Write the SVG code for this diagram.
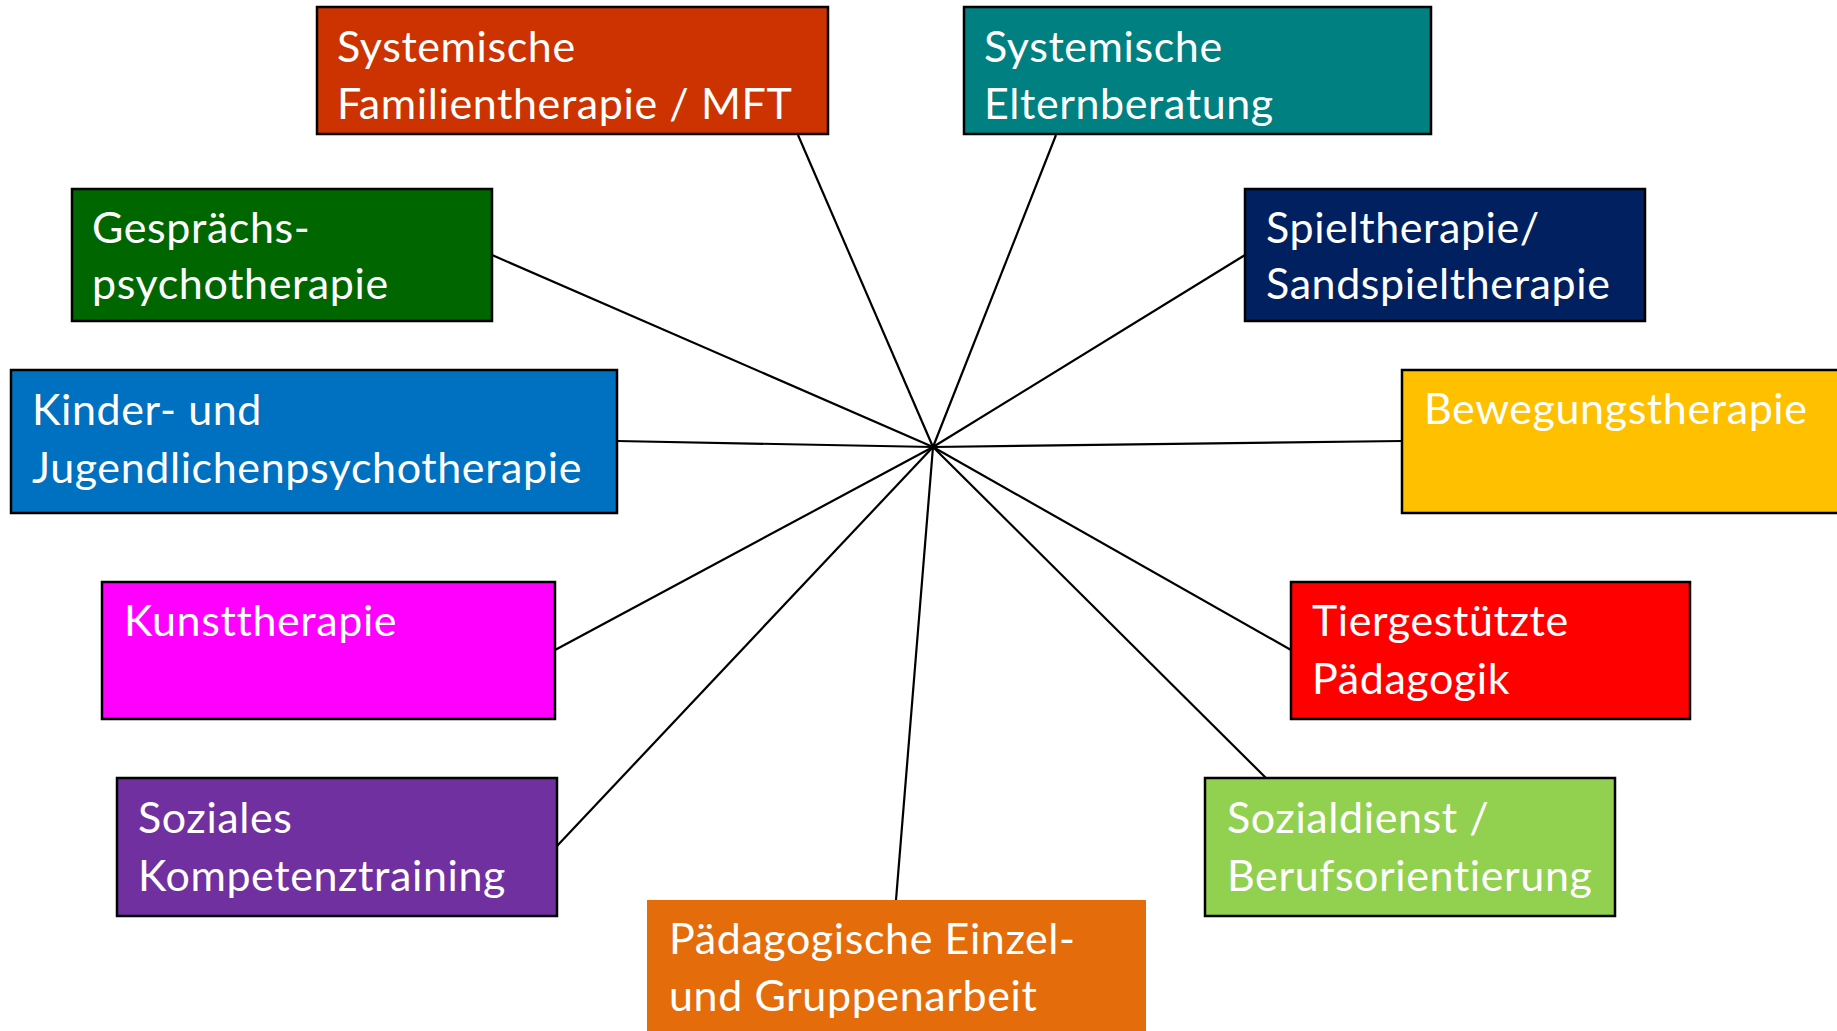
<svg xmlns="http://www.w3.org/2000/svg" width="1837" height="1031" viewBox="0 0 1837 1031">
<style>
.box{stroke:#000;stroke-width:2.5}
.nob{stroke:none}
.t{font-family:Lato,"Open Sans","Liberation Sans",sans-serif;font-size:43px;letter-spacing:0.6px;fill:#fff}
.c line{stroke:#000;stroke-width:2.2}
</style>
<rect width="1837" height="1031" fill="#fff"/>
<g id="connectors" class="c">
<line x1="933" y1="447" x2="798" y2="135"/>
<line x1="933" y1="447" x2="1056" y2="135"/>
<line x1="933" y1="447" x2="492" y2="255"/>
<line x1="933" y1="447" x2="1245" y2="255"/>
<line x1="933" y1="447" x2="617" y2="441"/>
<line x1="933" y1="447" x2="1402" y2="441"/>
<line x1="933" y1="447" x2="555" y2="650"/>
<line x1="933" y1="447" x2="1291" y2="650"/>
<line x1="933" y1="447" x2="557" y2="846"/>
<line x1="933" y1="447" x2="1266" y2="778"/>
<line x1="933" y1="447" x2="896" y2="900"/>
</g>
<g id="familientherapie">
<rect class="box" x="317" y="7" width="511" height="127" fill="#CC3300"/>
<text class="t" x="337" y="62">Systemische</text>
<text class="t" x="337" y="119">Familientherapie / MFT</text>
</g>
<g id="elternberatung">
<rect class="box" x="964" y="7" width="467" height="127" fill="#008080"/>
<text class="t" x="984" y="62">Systemische</text>
<text class="t" x="984" y="119">Elternberatung</text>
</g>
<g id="gespraechspsychotherapie">
<rect class="box" x="72" y="189" width="420" height="132" fill="#006600"/>
<text class="t" x="92" y="243">Gesprächs-</text>
<text class="t" x="92" y="299">psychotherapie</text>
</g>
<g id="spieltherapie">
<rect class="box" x="1245" y="189" width="400" height="132" fill="#002060"/>
<text class="t" x="1266" y="243">Spieltherapie/</text>
<text class="t" x="1266" y="299">Sandspieltherapie</text>
</g>
<g id="kjp">
<rect class="box" x="11" y="370" width="606" height="143" fill="#0070C0"/>
<text class="t" x="32" y="425">Kinder- und</text>
<text class="t" x="32" y="483">Jugendlichenpsychotherapie</text>
</g>
<g id="bewegungstherapie">
<rect class="box" x="1402" y="370" width="460" height="143" fill="#FFC000"/>
<text class="t" x="1424" y="424">Bewegungstherapie</text>
</g>
<g id="kunsttherapie">
<rect class="box" x="102" y="582" width="453" height="137" fill="#FF00FF"/>
<text class="t" x="124" y="636">Kunsttherapie</text>
</g>
<g id="tiergestuetzt">
<rect class="box" x="1291" y="582" width="399" height="137" fill="#FF0000"/>
<text class="t" x="1312" y="636">Tiergestützte</text>
<text class="t" x="1312" y="694">Pädagogik</text>
</g>
<g id="sozialkompetenz">
<rect class="box" x="117" y="778" width="440" height="138" fill="#7030A0"/>
<text class="t" x="138" y="833">Soziales</text>
<text class="t" x="138" y="891">Kompetenztraining</text>
</g>
<g id="sozialdienst">
<rect class="box" x="1205" y="778" width="410" height="138" fill="#92D050"/>
<text class="t" x="1227" y="833">Sozialdienst /</text>
<text class="t" x="1227" y="891">Berufsorientierung</text>
</g>
<g id="paedagogik">
<rect class="nob" x="647" y="900" width="499" height="140" fill="#E46C0A"/>
<text class="t" x="669" y="954">Pädagogische Einzel-</text>
<text class="t" x="669" y="1011">und Gruppenarbeit</text>
</g>
</svg>
